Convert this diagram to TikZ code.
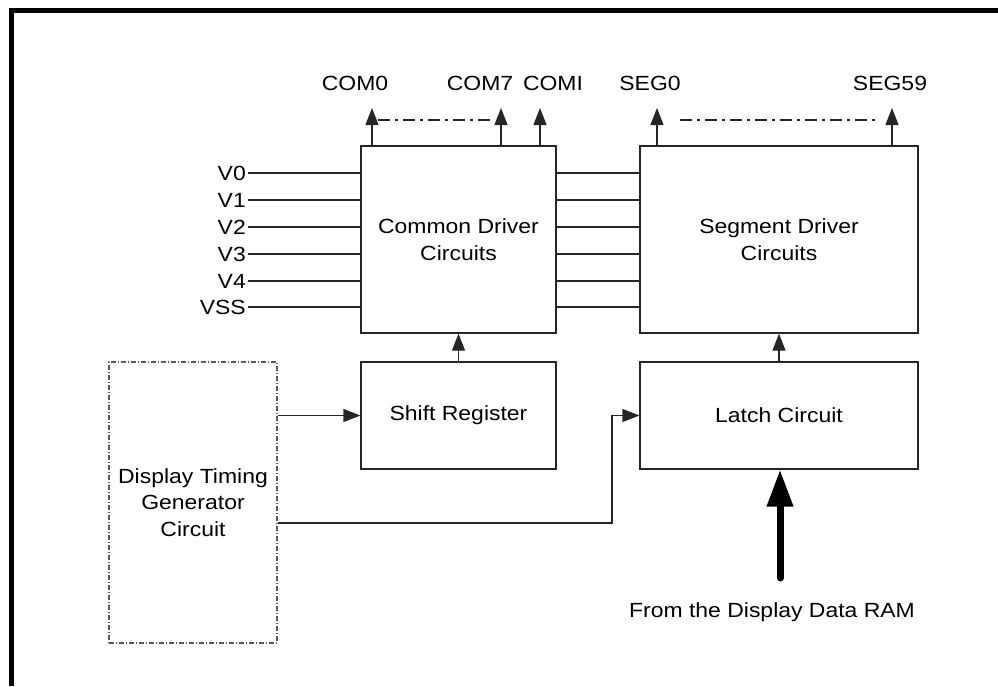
\documentclass[tikz,border=0pt]{standalone}
\usepackage{fontspec}
\setmainfont{Liberation Sans}[FakeStretch=1.12]
\usetikzlibrary{arrows.meta}
\begin{document}
\begin{tikzpicture}[x=1pt,y=-1pt,
  every node/.style={font=\fontsize{20.5}{26.5}\selectfont, text=black},
  blk/.style={draw=black!85, line width=1.3pt, inner sep=0pt},
  dtg/.style={draw=black!65, line width=1.3pt, inner sep=0pt, dash pattern=on 5pt off 2pt on 1pt off 2pt},
  wire/.style={draw=black!85, line width=1.3pt},
  arr/.style={wire, -{Triangle[length=17pt,width=13pt]}},
  dd/.style={draw=black!85, line width=1.3pt, dash pattern=on 12pt off 5pt on 3pt off 5pt},
  lbl/.style={inner sep=0pt}
]
\useasboundingbox (0,0) rectangle (998,686);
\draw[line width=5pt, line join=miter] (11.5,686) -- (11.5,10.5) -- (998,10.5);

% blocks
\node[blk, minimum width=195pt, minimum height=187pt, align=center] (com) at (458.5,239.5) {Common Driver\\Circuits};
\node[blk, minimum width=278pt, minimum height=187pt, align=center] (seg) at (779,239.5) {Segment Driver\\Circuits};
\node[blk, minimum width=195pt, minimum height=107pt] (shift) at (458.5,415.5) {Shift Register};
\node[blk, minimum width=278pt, minimum height=107pt] (latch) at (779,415.5) {Latch Circuit};
\node[dtg, minimum width=168pt, minimum height=281pt, align=center] (dtgc) at (193,502.5) {Display Timing\\Generator\\Circuit};

% top outputs
\coordinate (c0) at (372,108);
\coordinate (c7) at (501,108);
\coordinate (ci) at (540,108);
\coordinate (s0) at (657,108);
\coordinate (s59) at (892,108);
\draw[arr] (c0 |- com.north) -- (c0);
\draw[arr] (c7 |- com.north) -- (c7);
\draw[arr] (ci |- com.north) -- (ci);
\draw[arr] (s0 |- seg.north) -- (s0);
\draw[arr] (s59 |- seg.north) -- (s59);
\coordinate (dda) at (378,120);
\coordinate (ddb) at (494,120);
\coordinate (ddc) at (680,120);
\coordinate (ddd) at (878,120);
\draw[dd] (dda) -- (ddb);
\draw[dd] (ddc) -- (ddd);
\node[lbl] (lc0) at (355,83) {COM0};
\node[lbl] (lc7) at (480,83) {COM7};
\node[lbl] (lci) at (553,83) {COMI};
\node[lbl] (ls0) at (650,83) {SEG0};
\node[lbl] (ls59) at (890,83) {SEG59};

% V inputs and interconnect lines
\foreach \t/\y in {V0/173,V1/200,V2/227,V3/254,V4/281,VSS/307}{
  \node[lbl, anchor=east] (v\t) at (246,\y) {\t};
  \draw[wire] (v\t.east) ++(2,0) -- (v\t.east -| com.west);
  \draw[wire] (com.east |- v\t.east) -- (seg.west |- v\t.east);
}

% vertical arrows
\draw[arr] (shift.north) -- (com.south);
\draw[arr] (latch.north) -- (seg.south);

% DTG connections
\draw[arr] (dtgc.east |- shift.west) -- (shift.west);
\coordinate (bend) at (612,523);
\draw[arr] (dtgc.east |- bend) -- (bend) |- (latch.west);

% RAM arrow
\coordinate (ram) at (780,578);
\draw[line width=7pt, line cap=round, -{Triangle[length=37pt,width=25pt]}] (ram) -- (latch.south -| ram);
\node[lbl] (ramlbl) at (772,612) {From the Display Data RAM};
\end{tikzpicture}
\end{document}
